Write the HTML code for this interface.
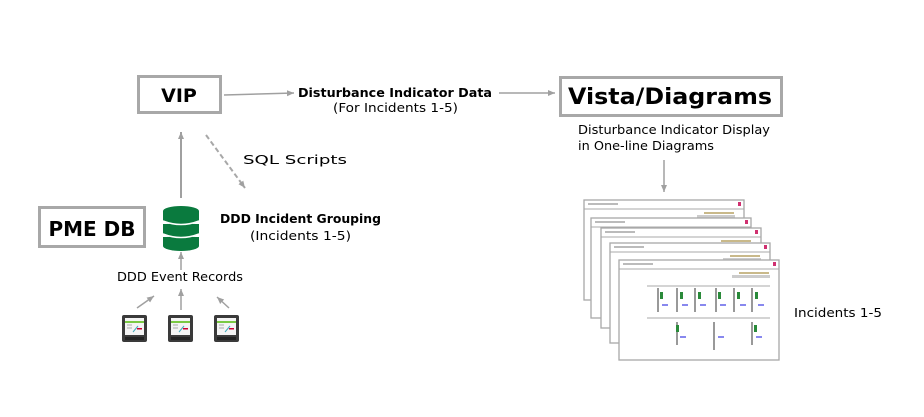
<!DOCTYPE html>
<html><head><style>
html,body{margin:0;padding:0;background:#fff;}
svg{display:block;font-family:"DejaVu Sans","Liberation Sans",sans-serif;}
</style></head><body>
<svg width="924" height="417" viewBox="0 0 924 417" xmlns="http://www.w3.org/2000/svg">
<defs>
<marker id="a" markerWidth="8" markerHeight="8" refX="7" refY="4" orient="auto" markerUnits="userSpaceOnUse">
<path d="M0,1 L7,4 L0,7 z" fill="#a0a0a0"/></marker>
<g id="m">
<rect x="0" y="0" width="25" height="27" rx="2" fill="#3a3a3a"/>
<rect x="3" y="3" width="19" height="17" fill="#f4f4f4"/>
<rect x="3" y="6" width="19" height="2" fill="#7ac943"/>
<line x1="5" y1="10" x2="10" y2="10" stroke="#aaa"/>
<line x1="5" y1="13" x2="10" y2="13" stroke="#aaa"/>
<line x1="11" y1="17" x2="16" y2="11" stroke="#4ab" />
<rect x="15" y="13" width="5" height="1.5" fill="#c03"/>
<rect x="3" y="22" width="19" height="3" fill="#222"/>
</g>
<g id="w">
<rect x="0" y="0" width="160" height="100" fill="#fff" stroke="#a8a8a8" stroke-width="1.3"/>
<line x1="0" y1="9" x2="160" y2="9" stroke="#a8a8a8"/>
<rect x="4" y="3" width="30" height="2" fill="#bbb"/>
<rect x="154" y="2" width="3" height="4" fill="#d03070"/>
<rect x="120" y="12" width="30" height="2" fill="#c9b98a"/>
<rect x="113" y="15" width="38" height="3" fill="#ccc"/>
</g>
</defs>

<rect x="138.5" y="76.5" width="82" height="36" fill="#fff" stroke="#a8a8a8" stroke-width="3"/>
<text x="179" y="102" font-size="19" font-weight="bold" text-anchor="middle">VIP</text>

<line x1="224" y1="95" x2="294" y2="93" stroke="#a0a0a0" stroke-width="1.5" marker-end="url(#a)"/>
<text x="298" y="97" font-size="12" font-weight="bold" textLength="194" lengthAdjust="spacingAndGlyphs">Disturbance Indicator Data</text>
<text x="333" y="112" font-size="12.5" textLength="125" lengthAdjust="spacingAndGlyphs">(For Incidents 1-5)</text>
<line x1="499" y1="93" x2="555" y2="93" stroke="#a0a0a0" stroke-width="1.5" marker-end="url(#a)"/>

<rect x="560.5" y="77.5" width="221" height="38" fill="#fff" stroke="#a8a8a8" stroke-width="3"/>
<text x="568" y="104" font-size="22" font-weight="bold" textLength="204" lengthAdjust="spacingAndGlyphs">Vista/Diagrams</text>
<text x="578" y="134" font-size="12.5" textLength="192" lengthAdjust="spacingAndGlyphs">Disturbance Indicator Display</text>
<text x="578" y="150" font-size="12.5" textLength="136" lengthAdjust="spacingAndGlyphs">in One-line Diagrams</text>
<line x1="664" y1="160" x2="664" y2="192" stroke="#a0a0a0" stroke-width="1.5" marker-end="url(#a)"/>

<use href="#w" x="584" y="200"/>
<use href="#w" x="591" y="218"/>
<use href="#w" x="601" y="228"/>
<use href="#w" x="610" y="243"/>
<use href="#w" x="619" y="260"/>
<g stroke="#333" stroke-width="1">
<line x1="647" y1="286" x2="770" y2="286" stroke="#aaa"/>
<line x1="647" y1="318" x2="770" y2="318" stroke="#aaa"/>
<line x1="658" y1="288" x2="658" y2="312"/><line x1="677" y1="288" x2="677" y2="312"/>
<line x1="695" y1="288" x2="695" y2="312"/><line x1="716" y1="288" x2="716" y2="312"/>
<line x1="734" y1="288" x2="734" y2="312"/><line x1="752" y1="288" x2="752" y2="312"/>
<line x1="677" y1="322" x2="677" y2="345"/><line x1="714" y1="322" x2="714" y2="350"/>
<line x1="752" y1="322" x2="752" y2="345"/>
</g>
<g fill="#2a8a3a"><rect x="660" y="292" width="3" height="7"/><rect x="680" y="292" width="3" height="7"/><rect x="698" y="292" width="3" height="7"/><rect x="718" y="292" width="3" height="7"/><rect x="737" y="292" width="3" height="7"/><rect x="755" y="292" width="3" height="7"/><rect x="676" y="325" width="3" height="7"/><rect x="754" y="325" width="3" height="7"/></g>
<g fill="#8888ee"><rect x="662" y="304" width="6" height="2"/><rect x="682" y="304" width="6" height="2"/><rect x="700" y="304" width="6" height="2"/><rect x="720" y="304" width="6" height="2"/><rect x="740" y="304" width="6" height="2"/><rect x="758" y="304" width="6" height="2"/><rect x="680" y="336" width="6" height="2"/><rect x="718" y="336" width="6" height="2"/><rect x="756" y="336" width="6" height="2"/></g>
<text x="794" y="317" font-size="12.5" textLength="88" lengthAdjust="spacingAndGlyphs">Incidents 1-5</text>

<line x1="181" y1="198" x2="181" y2="132" stroke="#a0a0a0" stroke-width="2" marker-end="url(#a)"/>
<line x1="206" y1="135" x2="245" y2="188" stroke="#a8a8a8" stroke-width="2" stroke-dasharray="5,3" marker-end="url(#a)"/>
<text x="243" y="164" font-size="12.5" textLength="104" lengthAdjust="spacingAndGlyphs">SQL Scripts</text>

<rect x="39.5" y="207.5" width="105" height="39" fill="#fff" stroke="#a8a8a8" stroke-width="3"/>
<text x="92" y="236" font-size="20" font-weight="bold" text-anchor="middle">PME DB</text>

<g fill="#0a7a3e">
<ellipse cx="181" cy="211" rx="18" ry="5"/>
<rect x="163" y="211" width="36" height="9"/>
<ellipse cx="181" cy="220" rx="18" ry="5"/>
<rect x="163" y="224" width="36" height="9"/>
<ellipse cx="181" cy="233" rx="18" ry="5"/>
<rect x="163" y="237" width="36" height="9"/>
<ellipse cx="181" cy="246" rx="18" ry="5"/>
</g>
<g fill="none" stroke="#fff" stroke-width="1.5">
<path d="M163,221 Q181,228 199,221"/>
<path d="M163,234 Q181,241 199,234"/>
</g>
<text x="220" y="223" font-size="12" font-weight="bold" textLength="161" lengthAdjust="spacingAndGlyphs">DDD Incident Grouping</text>
<text x="250" y="240" font-size="12.5" textLength="101" lengthAdjust="spacingAndGlyphs">(Incidents 1-5)</text>

<line x1="181" y1="270" x2="181" y2="252" stroke="#a0a0a0" stroke-width="1.5" marker-end="url(#a)"/>
<text x="117" y="281" font-size="12.5" textLength="126" lengthAdjust="spacingAndGlyphs">DDD Event Records</text>
<line x1="181" y1="310" x2="181" y2="289" stroke="#a0a0a0" stroke-width="1.5" marker-end="url(#a)"/>
<line x1="137" y1="308" x2="154" y2="296" stroke="#a0a0a0" stroke-width="1.5" marker-end="url(#a)"/>
<line x1="229" y1="308" x2="217" y2="297" stroke="#a0a0a0" stroke-width="1.5" marker-end="url(#a)"/>

<use href="#m" x="122" y="315"/>
<use href="#m" x="168" y="315"/>
<use href="#m" x="214" y="315"/>
</svg>
</body></html>
